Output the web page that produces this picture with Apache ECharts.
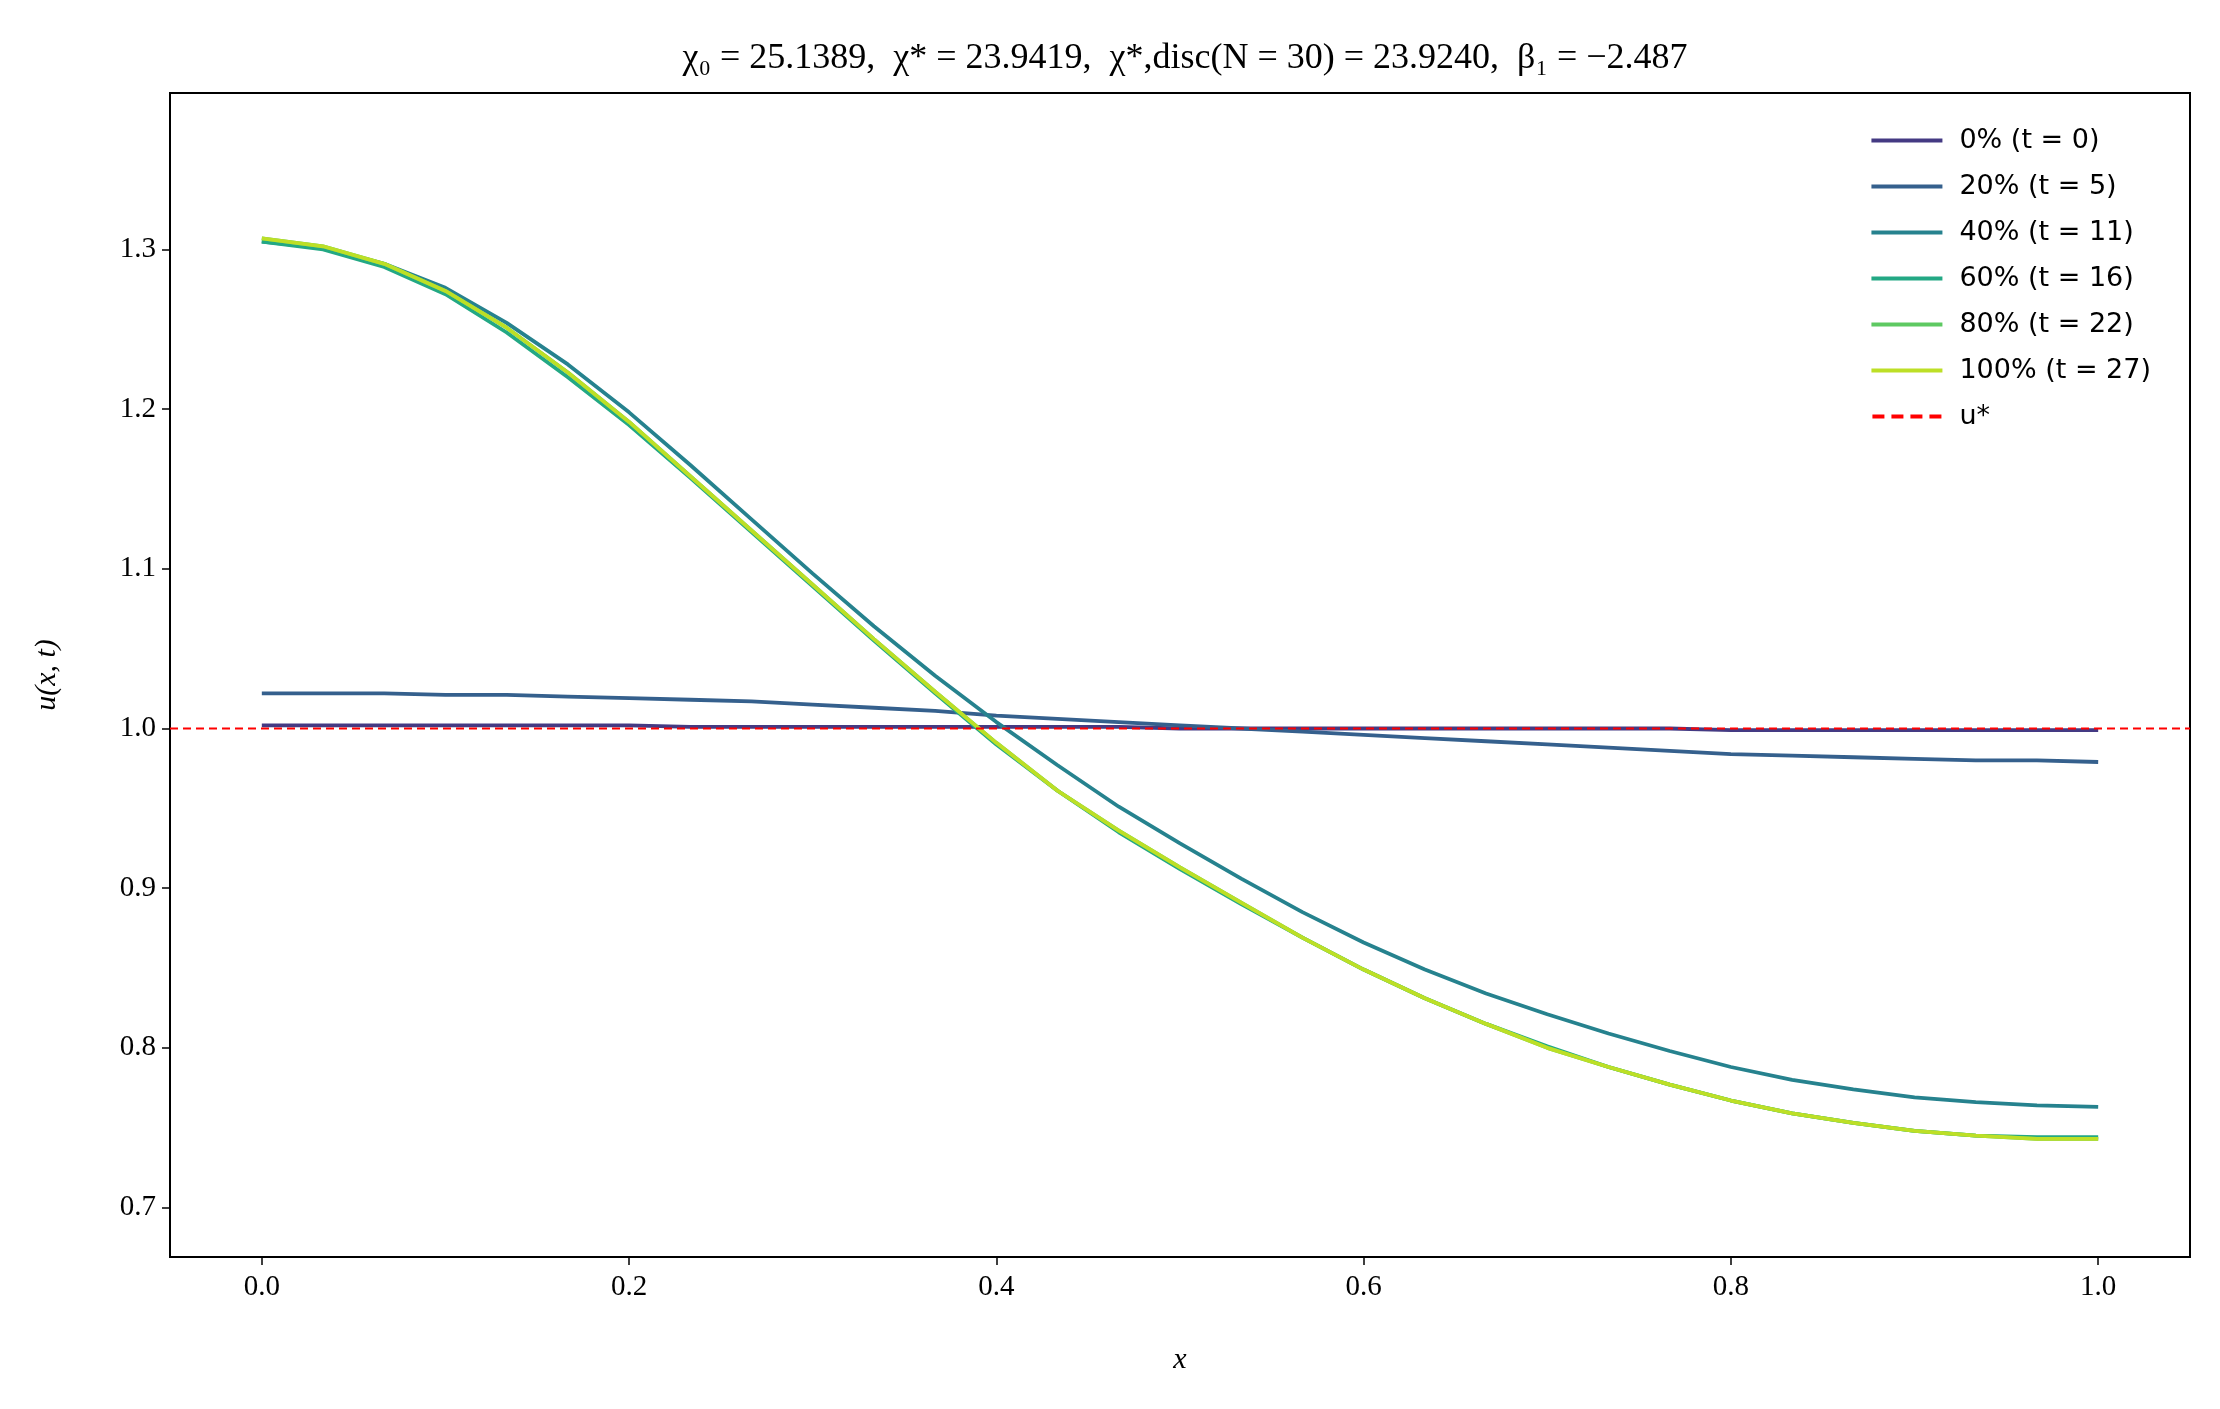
<!DOCTYPE html>
<html><head><meta charset="utf-8">
<script src="https://cdn.jsdelivr.net/npm/echarts@6/dist/echarts.min.js"></script>
<style>html,body{margin:0;padding:0;background:#fff}#c{width:2220px;height:1409px}</style>
</head><body><div id="c"></div>
<script>
const xValues = Array.from({length:31},(_,i)=>i/30);
const seriesNames = ['0% (t = 0)','20% (t = 5)','40% (t = 11)','60% (t = 16)','80% (t = 22)','100% (t = 27)'];
const s0 = [1.002,1.002,1.002,1.002,1.002,1.002,1.002,1.001,1.001,1.001,1.001,1.001,1.001,1.001,1.001,1.000,1.000,1.000,1.000,1.000,1.000,1.000,1.000,1.000,0.999,0.999,0.999,0.999,0.999,0.999,0.999];
const s20 = [1.022,1.022,1.022,1.021,1.021,1.020,1.019,1.018,1.017,1.015,1.013,1.011,1.008,1.006,1.004,1.002,1.000,0.998,0.996,0.994,0.992,0.990,0.988,0.986,0.984,0.983,0.982,0.981,0.980,0.980,0.979];
const s40 = [1.305,1.301,1.291,1.276,1.254,1.228,1.198,1.165,1.131,1.097,1.064,1.033,1.004,0.977,0.951,0.928,0.906,0.885,0.866,0.849,0.834,0.821,0.809,0.798,0.788,0.780,0.774,0.769,0.766,0.764,0.763];
const s60 = [1.305,1.300,1.289,1.272,1.248,1.220,1.190,1.157,1.123,1.089,1.055,1.022,0.990,0.961,0.935,0.912,0.890,0.869,0.849,0.831,0.815,0.801,0.788,0.777,0.767,0.759,0.753,0.748,0.745,0.744,0.744];
const s80 = [1.307,1.302,1.291,1.274,1.251,1.223,1.192,1.158,1.124,1.090,1.056,1.023,0.991,0.961,0.936,0.913,0.891,0.869,0.849,0.831,0.815,0.800,0.788,0.777,0.767,0.759,0.753,0.748,0.745,0.743,0.743];
const s100 = [1.307,1.302,1.291,1.274,1.251,1.223,1.192,1.158,1.124,1.090,1.056,1.023,0.991,0.961,0.936,0.913,0.891,0.869,0.849,0.831,0.815,0.800,0.788,0.777,0.767,0.759,0.753,0.748,0.745,0.743,0.743];
const uStar = 1.0;
const xTicks = [0,0.2,0.4,0.6,0.8,1.0];
const yTicks = [0.7,0.8,0.9,1.0,1.1,1.2,1.3];
const xMin=-0.05, xMax=1.05, yMin=0.669, yMax=1.398;
const colors = ['#443a83','#35608d','#26828e','#23a884','#5ec962','#bddf26'];
const allData=[s0,s20,s40,s60,s80,s100];
const serif = '"Liberation Serif","DejaVu Serif",serif';
const series = allData.map((d,k)=>({name:seriesNames[k],type:'line',showSymbol:false,symbol:'none',
  data:d.map((v,i)=>[xValues[i],v]),lineStyle:{width:3.8,color:colors[k]},itemStyle:{color:colors[k]},z:2+k}));
series.push({name:'u*',type:'line',symbol:'none',data:[[xMin,uStar],[xMax,uStar]],lineStyle:{width:2.2,type:[8,5],color:'#ff0000'},itemStyle:{color:'#ff0000'},z:20});
const chart = echarts.init(document.getElementById('c'));
chart.setOption({
  animation:false,
  title:{text:'χ₀ = 25.1389,  χ* = 23.9419,  χ*,disc(N = 30) = 23.9240,  β₁ = −2.487',left:1180,top:36,textAlign:'center',
    textStyle:{fontFamily:serif,fontSize:36,fontWeight:'normal',color:'#000'}},
  grid:{left:170,right:30,top:93,bottom:152,show:true,borderColor:'#000',borderWidth:2,backgroundColor:'transparent'},
  legend:{orient:'vertical',right:64,top:122,itemWidth:71,itemHeight:4,itemGap:19,
    textStyle:{fontFamily:'"DejaVu Sans",sans-serif',fontSize:27,color:'#000',padding:[0,0,0,12]},
    data:seriesNames.map(n=>({name:n,icon:'rect'})).concat([{name:'u*',icon:'path://M0,0h12v4h-12zM19,0h12v4h-12zM38,0h12v4h-12zM57,0h12v4h-12z'}])},
  xAxis:{type:'value',min:xMin,max:xMax,name:'x',nameLocation:'middle',nameGap:88,
    nameTextStyle:{fontFamily:serif,fontStyle:'italic',fontSize:30,color:'#000'},
    axisLine:{show:true,onZero:false,lineStyle:{color:'#000',width:2}},
    axisTick:{show:true,length:8,customValues:xTicks,lineStyle:{color:'#000',width:1.5}},
    axisLabel:{customValues:xTicks,formatter:v=>v.toFixed(1),fontFamily:serif,fontSize:29,color:'#000',margin:16},
    splitLine:{show:false}},
  yAxis:{type:'value',min:yMin,max:yMax,name:'u(x, t)',nameLocation:'middle',nameGap:108,nameRotate:90,
    nameTextStyle:{fontFamily:serif,fontStyle:'italic',fontSize:30,color:'#000'},
    axisLine:{show:true,onZero:false,lineStyle:{color:'#000',width:2}},
    axisTick:{show:true,length:8,customValues:yTicks,lineStyle:{color:'#000',width:1.5}},
    axisLabel:{customValues:yTicks,formatter:v=>v.toFixed(1),fontFamily:serif,fontSize:29,color:'#000',margin:14},
    splitLine:{show:false}},
  series:series
});
</script></body></html>
